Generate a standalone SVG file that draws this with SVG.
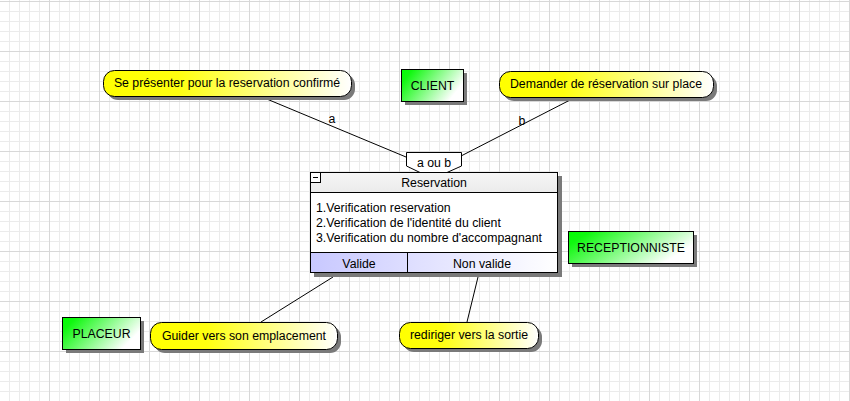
<svg xmlns="http://www.w3.org/2000/svg" width="850" height="401" viewBox="0 0 850 401">
  <defs>
    <pattern id="grid" x="0" y="2" width="50" height="50" patternUnits="userSpaceOnUse">
      <path d="M9.5 0V50M19.5 0V50M29.5 0V50M39.5 0V50M0 9.5H50M0 19.5H50M0 29.5H50M0 39.5H50" stroke="#ebebeb" stroke-width="1" fill="none"/>
      <path d="M49.5 0V50M0 49.5H50" stroke="#d8d8d8" stroke-width="1" fill="none"/>
    </pattern>
    <linearGradient id="yellow" x1="0" y1="0" x2="1" y2="0">
      <stop offset="0" stop-color="#ffff00"/>
      <stop offset="0.3" stop-color="#ffff10"/>
      <stop offset="1" stop-color="#ffffff"/>
    </linearGradient>
    <linearGradient id="green" x1="0" y1="0" x2="1" y2="0.4">
      <stop offset="0" stop-color="#00ff00"/>
      <stop offset="0.15" stop-color="#10f810"/>
      <stop offset="1" stop-color="#ffffff"/>
    </linearGradient>
    <linearGradient id="head" x1="0" y1="0" x2="0" y2="1">
      <stop offset="0" stop-color="#f6f6f6"/>
      <stop offset="1" stop-color="#ebebeb"/>
    </linearGradient>
    <linearGradient id="row" x1="0" y1="0" x2="1" y2="0">
      <stop offset="0" stop-color="#c8c8ff"/>
      <stop offset="1" stop-color="#ffffff"/>
    </linearGradient>
    <style>
      text { font-family: "Liberation Sans", Arial, sans-serif; font-size: 12.3px; fill: #000; }
      .c { text-anchor: middle; }
      .shadow { fill: #7a7a7a; }
      .border { stroke: #000; stroke-width: 1; }
      .conn { stroke: #000; stroke-width: 1; fill: none; }
    </style>
  </defs>
  <rect width="850" height="401" fill="#ffffff"/>
  <rect width="850" height="401" fill="url(#grid)"/>

  <g id="connectors">
    <line class="conn" x1="262" y1="97" x2="406" y2="157"/>
    <line class="conn" x1="572" y1="99" x2="461" y2="156"/>
    <line class="conn" x1="333" y1="277" x2="261" y2="322"/>
    <line class="conn" x1="478" y1="277" x2="467" y2="322"/>
    <text class="c" x="332" y="123">a</text>
    <text class="c" x="522" y="125">b</text>
  </g>

  <g id="callout-presenter">
    <rect class="shadow" x="107" y="74" width="248" height="26" rx="11"/>
    <rect class="border" x="103.5" y="70.5" width="248" height="26" rx="11" fill="url(#yellow)"/>
    <text class="c" x="227" y="87">Se présenter pour la reservation confirmé</text>
  </g>

  <g id="client">
    <rect class="shadow" x="405" y="73" width="62" height="32"/>
    <rect class="border" x="401.5" y="69.5" width="62" height="32" fill="url(#green)"/>
    <text class="c" x="432.5" y="90">CLIENT</text>
  </g>

  <g id="callout-demander">
    <rect class="shadow" x="503" y="75" width="214" height="26" rx="11"/>
    <rect class="border" x="499.5" y="71.5" width="214" height="26" rx="11" fill="url(#yellow)"/>
    <text class="c" x="606" y="88">Demander de réservation sur place</text>
  </g>

  <g id="aoub">
    <polygon class="border" points="406.5,152.5 461.5,152.5 461.5,166 447,172.5 420,172.5 406.5,166" fill="#ffffff"/>
    <text class="c" x="434" y="167">a ou b</text>
  </g>

  <g id="reservation">
    <rect class="shadow" x="314" y="176" width="248" height="101"/>
    <rect x="310.5" y="172.5" width="247" height="100" fill="#ffffff"/>
    <rect x="310.5" y="172.5" width="247" height="20" fill="url(#head)"/>
    <rect x="310.5" y="252.5" width="247" height="20" fill="url(#row)"/>
    <rect class="border" x="310.5" y="172.5" width="247" height="100" fill="none"/>
    <line class="border" x1="310" y1="192.5" x2="558" y2="192.5"/>
    <line class="border" x1="310" y1="252.5" x2="558" y2="252.5"/>
    <line class="border" x1="407.5" y1="252" x2="407.5" y2="273"/>
    <rect class="border" x="310.5" y="172.5" width="10" height="10" fill="#ffffff"/>
    <line class="border" x1="313" y1="177.5" x2="318" y2="177.5"/>
    <text class="c" x="434" y="187">Reservation</text>
    <text x="316" y="212">1.Verification reservation</text>
    <text x="316" y="227">2.Verification de l'identité du client</text>
    <text x="316" y="242">3.Verification du nombre d'accompagnant</text>
    <text class="c" x="359" y="268">Valide</text>
    <text class="c" x="482" y="268">Non valide</text>
  </g>

  <g id="receptionniste">
    <rect class="shadow" x="572" y="235" width="125" height="32"/>
    <rect class="border" x="568.5" y="231.5" width="125" height="32" fill="url(#green)"/>
    <text class="c" x="631" y="252">RECEPTIONNISTE</text>
  </g>

  <g id="placeur">
    <rect class="shadow" x="66" y="321" width="78" height="32"/>
    <rect class="border" x="62.5" y="317.5" width="78" height="32" fill="url(#green)"/>
    <text class="c" x="101.5" y="338">PLACEUR</text>
  </g>

  <g id="callout-guider">
    <rect class="shadow" x="154" y="326" width="187" height="27" rx="11"/>
    <rect class="border" x="150.5" y="322.5" width="187" height="27" rx="11" fill="url(#yellow)"/>
    <text class="c" x="244" y="340">Guider vers son emplacement</text>
  </g>

  <g id="callout-rediriger">
    <rect class="shadow" x="403" y="326" width="139" height="26" rx="11"/>
    <rect class="border" x="399.5" y="322.5" width="139" height="26" rx="11" fill="url(#yellow)"/>
    <text class="c" x="469" y="339">rediriger vers la sortie</text>
  </g>
</svg>
